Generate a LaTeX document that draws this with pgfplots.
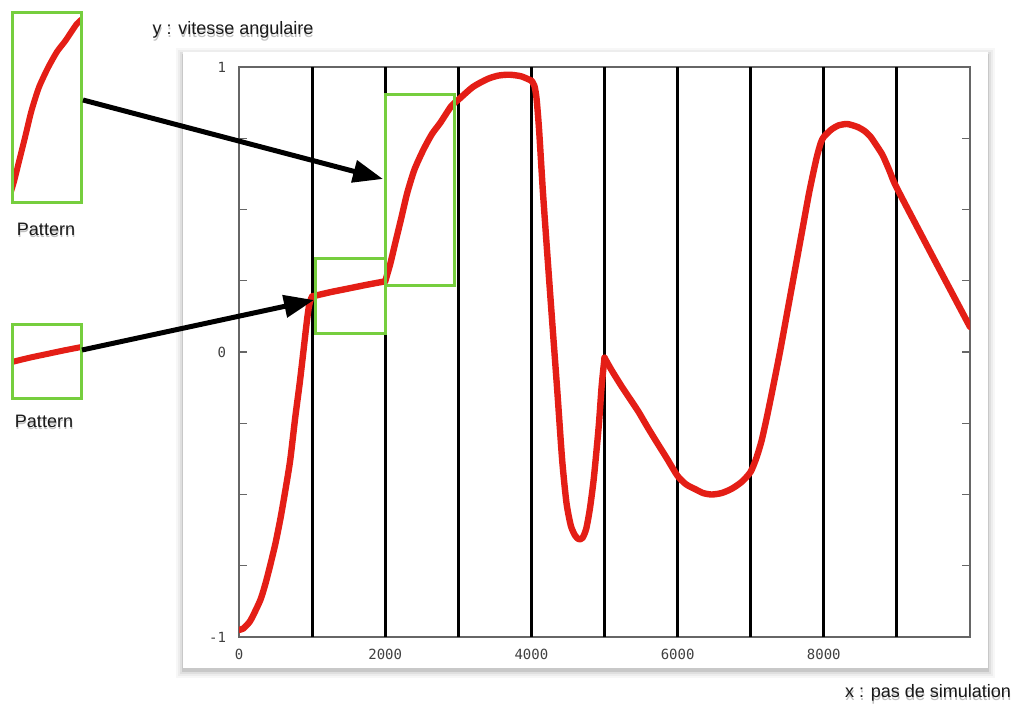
\documentclass[border=0pt]{standalone}
\usepackage{pgfplots}
\pgfplotsset{compat=1.18}
\usepackage{pgfplotstable}
\usepackage{fontspec}
\setmainfont{Liberation Sans}
\setmonofont{DejaVu Sans Mono}
\usetikzlibrary{arrows.meta}
\definecolor{curvered}{RGB}{228,30,22}
\definecolor{boxgreen}{RGB}{118,206,62}

\pgfplotstableread{
x y
0 -0.975
60 -0.970
150 -0.945
230 -0.905
300 -0.865
365 -0.81
430 -0.745
500 -0.67
570 -0.58
635 -0.484
700 -0.38
770 -0.228
830 -0.11
880 0.0
920 0.09
950 0.15
975 0.18
1000 0.195
1250 0.21
1500 0.223
1750 0.236
2000 0.248
2070 0.31
2137 0.382
2220 0.47
2301 0.558
2400 0.64
2521 0.709
2640 0.765
2753 0.804
2904 0.863
3000 0.885
3200 0.93
3400 0.958
3550 0.970
3700 0.973
3850 0.968
3950 0.958
4000 0.952
4040 0.935
4070 0.89
4105 0.78
4158 0.56
4224 0.32
4289 0.09
4355 -0.14
4421 -0.38
4480 -0.53
4540 -0.61
4600 -0.645
4650 -0.657
4700 -0.652
4750 -0.62
4800 -0.55
4855 -0.44
4921 -0.26
4961 -0.12
5000 -0.02
5100 -0.065
5233 -0.12
5350 -0.165
5466 -0.21
5580 -0.26
5699 -0.31
5850 -0.372
6000 -0.435
6120 -0.465
6247 -0.482
6350 -0.495
6466 -0.50
6600 -0.495
6740 -0.48
6880 -0.455
7000 -0.42
7080 -0.37
7150 -0.31
7220 -0.23
7300 -0.13
7400 0.0
7500 0.14
7600 0.28
7700 0.42
7800 0.56
7900 0.68
7960 0.735
8000 0.755
8100 0.78
8200 0.795
8320 0.80
8458 0.79
8560 0.775
8640 0.755
8720 0.725
8806 0.69
8900 0.635
9000 0.575
9500 0.33
10000 0.088
}\curvedata

\pgfplotsset{
  seg/.style={curvered, line width=3.2pt, line join=round, line cap=round, smooth, tension=0.4, restrict x to domain=#1},
}

\begin{document}
\begin{tikzpicture}
\path[use as bounding box] (0,0) rectangle (508pt,-353.5pt);
\begin{scope}[x=0.5pt,y=-0.5pt]
  \foreach \i/\o in {7/0.03,5/0.04,3/0.06,1/0.10} {
    \fill[black, opacity=\o] (183-\i,52-\i+3) rectangle (988+\i,668+\i+3);
  }
  \fill[white] (183,52) rectangle (988,668);
\end{scope}

\begin{axis}[
  at={(119.5pt,-318.5pt)}, anchor=south west,
  scale only axis, width=365.5pt, height=285pt,
  xmin=0, xmax=10000, ymin=-1, ymax=1,
  axis line style={black!60, line width=0.6pt},
  xtick={0,2000,4000,6000,8000},
  xticklabels={0,2000,4000,6000,8000},
  x tick style={draw=none},
  extra x ticks={1000,2000,3000,4000,5000,6000,7000,8000,9000},
  extra x tick labels={},
  extra x tick style={grid=major, major grid style={black, line width=1.5pt}},
  ytick={-1,0,1},
  yticklabels={-1,0,1},
  minor ytick={-0.75,-0.5,-0.25,0.25,0.5,0.75},
  y tick style={black!60, line width=0.6pt},
  major tick length=4pt, minor tick length=4pt,
  ytick pos=both,
  ticklabel style={font=\ttfamily\fontsize{7}{8}\selectfont, text=black!75},
  xticklabel style={yshift=-2.5pt},
  yticklabel style={xshift=-3pt},
  scaled x ticks=false,
]
\addplot[seg=0:1000] table[x=x,y=y] {\curvedata};
\addplot[seg=1000:2000] table[x=x,y=y] {\curvedata};
\addplot[seg=2000:4000] table[x=x,y=y] {\curvedata};
\addplot[seg=4000:5000] table[x=x,y=y] {\curvedata};
\addplot[seg=5000:10000] table[x=x,y=y] {\curvedata};
\end{axis}

% inset 1 (steep pattern)
\begin{axis}[
  at={(6pt,-101pt)}, anchor=south west,
  scale only axis, width=34.5pt, height=95pt,
  xmin=2040, xmax=2960, ymin=0.235, ymax=0.905,
  hide axis,
]
\addplot[seg=2000:4000, line width=3pt] table[x=x,y=y] {\curvedata};
\end{axis}

% inset 2 (flat pattern)
\begin{axis}[
  at={(6pt,-199pt)}, anchor=south west,
  scale only axis, width=34.5pt, height=37pt,
  xmin=1000, xmax=2000, ymin=0.067, ymax=0.33,
  hide axis,
]
\addplot[seg=1000:2000, line width=3pt, line cap=butt] table[x=x,y=y] {\curvedata};
\end{axis}

\begin{scope}[x=0.5pt,y=-0.5pt]
  % green boxes
  \draw[boxgreen, line width=1.5pt] (315,258) rectangle (385,333);
  \draw[boxgreen, line width=1.5pt] (385,94) rectangle (454,285);
  \draw[boxgreen, line width=1.5pt] (12,12) rectangle (81,202);
  \draw[boxgreen, line width=1.5pt] (12,324) rectangle (81,398);
  % arrows
  \draw[line width=2.5pt, -{Triangle[length=15pt,width=11pt]}] (83,100) -- (383,179);
  \draw[line width=2.5pt, -{Triangle[length=15pt,width=11pt]}] (82,350) -- (314,300);
  % texts with soft shadow
  \foreach \px/\py/\t in {233/30/{y : vitesse angulaire}, 928/693/{x : pas de simulation}, 46/229/{Pattern}, 44/421/{Pattern}} {
    \node[font=\fontsize{9}{11}\selectfont, text=black, opacity=0.25] at (\px+0.5,\py+2.5) {\t};
    \node[font=\fontsize{9}{11}\selectfont, text=black!90] at (\px,\py) {\t};
  }
\end{scope}
\end{tikzpicture}
\end{document}
